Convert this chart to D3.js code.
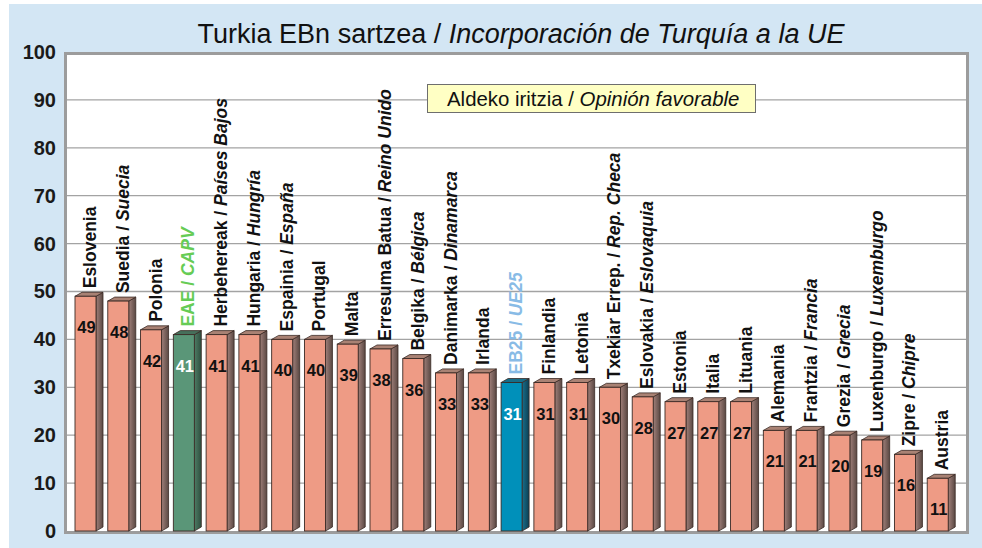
<!DOCTYPE html>
<html><head><meta charset="utf-8">
<script src="https://cdn.jsdelivr.net/npm/d3@7"></script>
<style>body{margin:0;background:#fff}svg{display:block;font-family:"Liberation Sans",Arial,sans-serif}</style>
</head><body><svg id="c" width="982" height="548"></svg>
<script>
const namesEu = ["Eslovenia","Suedia / ","Polonia","EAE / ","Herbehereak / ","Hungaria / ","Espainia / ","Portugal","Malta","Erresuma Batua / ","Belgika / ","Danimarka / ","Irlanda","EB25 / ","Finlandia","Letonia","Txekiar Errep. / ","Eslovakia / ","Estonia","Italia","Lituania","Alemania","Frantzia / ","Grezia / ","Luxenburgo / ","Zipre / ","Austria"];
const namesEs = ["","Suecia","","CAPV","Países Bajos","Hungría","España","","","Reino Unido","Bélgica","Dinamarca","","UE25","","","Rep. Checa","Eslovaquia","","","","","Francia","Grecia","Luxemburgo","Chipre",""];
const values = [49,48,42,41,41,41,40,40,39,38,36,33,33,31,31,31,30,28,27,27,27,21,21,20,19,16,11];
const highlight = ["","","","capv","","","","","","","","","","eu","","","","","","","","","","","","",""];
const yTicks = [0,10,20,30,40,50,60,70,80,90,100];
const titleEu = "Turkia EBn sartzea / ";
const titleEs = "Incorporación de Turquía a la UE";
const legendEu = "Aldeko iritzia / ";
const legendEs = "Opinión favorable";

const svg = d3.select("#c");
const cats = namesEu.map((d,i)=>i);
const x = d3.scaleBand().domain(cats).range([70,955]).padding(0);
const y = d3.scaleLinear().domain([0,100]).range([531,52]);

// background
svg.append("rect").attr("x",9).attr("y",4).attr("width",973).attr("height",544).attr("fill","#d3e6f4");
// plot area
svg.append("rect").attr("x",66).attr("y",53).attr("width",901).attr("height",479).attr("fill","#fff");

// gridlines
svg.append("g").selectAll("line").data(yTicks.filter(t=>t>0&&t<100)).join("line")
  .attr("x1",67).attr("x2",966).attr("y1",d=>y(d)).attr("y2",d=>y(d))
  .attr("stroke","#a3a3a3").attr("stroke-width",1.3);

// frame
svg.append("rect").attr("x",65.5).attr("y",53.5).attr("width",902).attr("height",479)
  .attr("fill","none").attr("stroke","#9c9c9c").attr("stroke-width",3);

// y axis labels
const yAxis = d3.axisLeft(y).tickValues(yTicks).tickSize(0).tickPadding(0);
const ga = svg.append("g").attr("transform","translate(56,0)").call(yAxis);
ga.select(".domain").remove();
ga.selectAll("text").attr("font-size",20).attr("font-weight","bold").attr("fill","#1a1a1a")
  .attr("font-family","Liberation Sans, Arial, sans-serif");

// gradients
const defs = svg.append("defs");
function grad(id,c1,c2){
  const g = defs.append("linearGradient").attr("id",id).attr("x1",0).attr("x2",1).attr("y1",0).attr("y2",0);
  g.append("stop").attr("offset",0).attr("stop-color",c1);
  g.append("stop").attr("offset",1).attr("stop-color",c2);
}
grad("sideN","#a0807a","#5a4843");
grad("sideG","#4d7d65","#2e4d3e");
grad("sideB","#1a6f8c","#0b3f52");

const fw = 21, off = 5, dx = 7, dy = 4;
const fronts = {"":"#EE9B85", capv:"#5A9678", eu:"#0090BA"};
const tops = {"":"#a98274", capv:"#46705b", eu:"#166d88"};
const sides = {"":"url(#sideN)", capv:"url(#sideG)", eu:"url(#sideB)"};
const labCol = {"":"#111", capv:"#66CC55", eu:"#88BBE6"};
const valCol = {"":"#111", capv:"#fff", eu:"#fff"};
const stroke = "#3a2a25";

const bars = svg.append("g").selectAll("g").data(cats).join("g");
bars.each(function(i){
  const g = d3.select(this);
  const x0 = x(i)+off, x1 = x0+fw, t = y(values[i]), b = y(0), h = highlight[i];
  g.append("polygon").attr("points",[[x1,t],[x1+dx,t-dy],[x1+dx,b-dy],[x1,b]].join(" "))
    .attr("fill",sides[h]).attr("stroke",stroke).attr("stroke-width",0.8);
  g.append("polygon").attr("points",[[x0,t],[x0+dx,t-dy],[x1+dx,t-dy],[x1,t]].join(" "))
    .attr("fill",tops[h]).attr("stroke",stroke).attr("stroke-width",0.8);
  g.append("rect").attr("x",x0).attr("y",t).attr("width",fw).attr("height",b-t)
    .attr("fill",fronts[h]).attr("stroke",stroke).attr("stroke-width",0.9);
  g.append("text").attr("x",x0+fw/2+1).attr("y",t+37).attr("text-anchor","middle")
    .attr("font-size",16.5).attr("font-weight","bold").attr("fill",valCol[h]).text(values[i]);
  const lt = g.append("text").attr("transform",`translate(${x0+21},${t-8}) rotate(-90)`)
    .attr("font-size",17.5).attr("font-weight","bold").attr("fill",labCol[h]);
  lt.append("tspan").text(namesEu[i]);
  if(namesEs[i]) lt.append("tspan").attr("font-style","italic").text(namesEs[i]);
});

// title
const tt = svg.append("text").attr("x",521).attr("y",43).attr("text-anchor","middle")
  .attr("font-size",27).attr("fill","#111");
tt.append("tspan").text(titleEu);
tt.append("tspan").attr("font-style","italic").text(titleEs);

// legend
svg.append("rect").attr("x",427.5).attr("y",84.5).attr("width",328).attr("height",28)
  .attr("fill","#FFFFC4").attr("stroke","#6e6e6e").attr("stroke-width",1);
const lg = svg.append("text").attr("x",447).attr("y",105.5).attr("font-size",20.4).attr("fill","#111");
lg.append("tspan").text(legendEu);
lg.append("tspan").attr("font-style","italic").text(legendEs);
</script></body></html>
